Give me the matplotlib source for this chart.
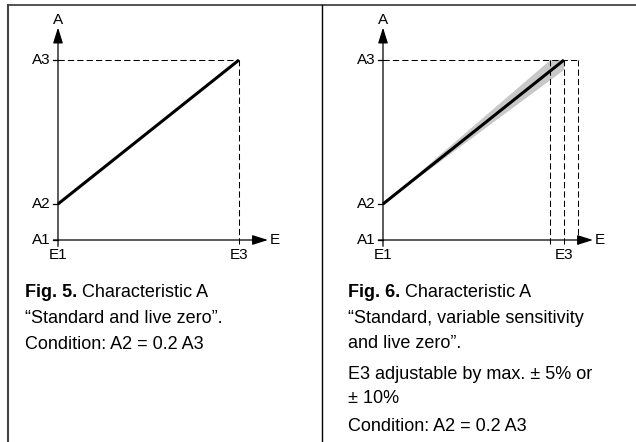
import matplotlib.pyplot as plt
from matplotlib.patches import Polygon

plt.rcParams["font.family"] = ["Liberation Sans", "DejaVu Sans"]

# characteristic levels (fractions of full scale)
a_levels = [0.0, 0.2, 1.0]
a_labels = ["A1", "A2", "A3"]
e_points = [0.0, 1.0]
e_labels = ["E1", "E3"]
e3_range = [0.925, 1.0, 1.075]  # adjustable end point of E3

caption_left = [
    ("Fig. 5.", " Characteristic A"),
    ("", "\u201cStandard and live zero\u201d."),
    ("", "Condition: A2 = 0.2 A3"),
]
caption_right = [
    ("Fig. 6.", " Characteristic A"),
    ("", "\u201cStandard, variable sensitivity"),
    ("", "and live zero\u201d."),
    ("", "E3 adjustable by max. \u00b1 5% or"),
    ("", "\u00b1 10%"),
    ("", "Condition: A2 = 0.2 A3"),
]

W, H = 636, 442
LABEL_FS = 11
fig = plt.figure(figsize=(W / 100, H / 100), dpi=100)


def px(x, y, w, h):
    return [x / W, 1 - (y + h) / H, w / W, h / H]


def draw_panel(ax, e_ends, band=False):
    ax.set_xlim(0, 1)
    ax.set_ylim(0, 1)
    ax.axis("off")
    kw = dict(clip_on=False)
    # axes with arrows
    arrow = dict(arrowstyle="-|>,head_length=0.95,head_width=0.3",
                 lw=0.9, color="black", shrinkA=0, shrinkB=0)
    ax.annotate("", xy=(0, 1.18), xytext=(0, -0.035), arrowprops=arrow,
                annotation_clip=False)
    ax.annotate("", xy=(1.16, 0), xytext=(-0.025, 0), arrowprops=arrow,
                annotation_clip=False)
    ax.text(0, 1.225, "A", ha="center", va="center", fontsize=LABEL_FS)
    ax.text(1.2, 0, "E", ha="center", va="center", fontsize=LABEL_FS)

    # y ticks and labels
    for a, lab in zip(a_levels, a_labels):
        ax.plot([-0.025, 0], [a, a], color="black", lw=0.9, **kw)
        ax.text(-0.04, a, lab, ha="right", va="center", fontsize=LABEL_FS)
    for e, lab in zip(e_points, e_labels):
        ax.text(e, -0.045, lab, ha="center", va="top", fontsize=LABEL_FS)

    # dashed guides
    top = max(e_ends)
    ax.plot([0, top], [1, 1], color="black", lw=0.75, dashes=(6, 3), **kw)
    for e in e_ends:
        ax.plot([e, e], [-0.02, 1], color="black", lw=0.75, dashes=(6, 3), **kw)

    if band:
        ax.add_patch(Polygon([(0, a_levels[1]), (min(e_ends), 1), (max(e_ends), 1)],
                             closed=True, facecolor="#c8c8c8", edgecolor="none"))
    ax.plot([0, 1], [a_levels[1], 1], color="black", lw=2.2,
            solid_capstyle="butt", **kw)


ax1 = fig.add_axes(px(58, 60, 181, 180))
draw_panel(ax1, [e_points[1]])
ax2 = fig.add_axes(px(383, 60, 181, 180))
draw_panel(ax2, e3_range, band=True)

# frame
frame = fig.add_axes([0, 0, 1, 1])
frame.set_xlim(0, W)
frame.set_ylim(H, 0)
frame.axis("off")
frame.plot([8, 8], [5, H], color="#444444", lw=1.5)
frame.plot([8, W], [5, 5], color="#444444", lw=1.3)
frame.plot([322, 322], [5, H], color="black", lw=1.0)
frame.patch.set_alpha(0)


def draw_caption(x, baselines, lines):
    renderer = fig.canvas.get_renderer()
    for y, (bold, rest) in zip(baselines, lines):
        cx = x
        if bold:
            t = frame.text(cx, y, bold, fontsize=13, fontweight="bold",
                           ha="left", va="baseline")
            bb = t.get_window_extent(renderer)
            cx += bb.width
        frame.text(cx, y, rest, fontsize=13, ha="left", va="baseline")


draw_caption(25, [297, 323, 349], caption_left)
draw_caption(348, [297, 323, 348, 379, 403, 431], caption_right)

fig.savefig("out.png", dpi=100)
